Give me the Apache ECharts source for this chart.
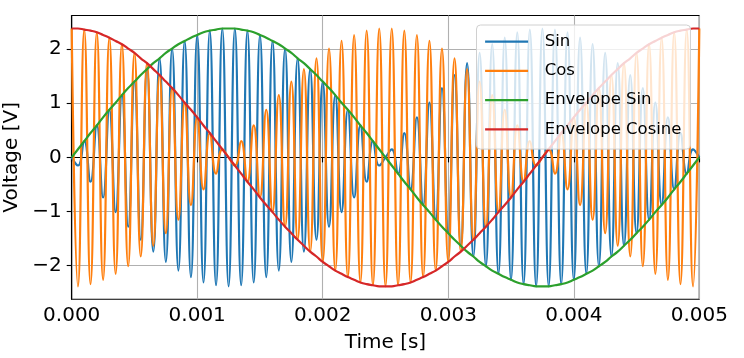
<!DOCTYPE html>
<html>
<head>
<meta charset="utf-8">
<script src="https://cdn.jsdelivr.net/npm/echarts@6/dist/echarts.min.js"></script>
<style>
html,body{margin:0;padding:0;background:#fff;}
#chart{width:744px;height:358px;}
</style>
</head>
<body>
<div id="chart"></div>
<script>
// Time samples (s) at the carrier's half-period extrema
var times = [0,0.00005,0.0001,0.00015,0.0002,0.00025,0.0003,0.00035,0.0004,0.00045,0.0005,
0.00055,0.0006,0.00065,0.0007,0.00075,0.0008,0.00085,0.0009,0.00095,0.001,
0.00105,0.0011,0.00115,0.0012,0.00125,0.0013,0.00135,0.0014,0.00145,0.0015,
0.00155,0.0016,0.00165,0.0017,0.00175,0.0018,0.00185,0.0019,0.00195,0.002,
0.00205,0.0021,0.00215,0.0022,0.00225,0.0023,0.00235,0.0024,0.00245,0.0025,
0.00255,0.0026,0.00265,0.0027,0.00275,0.0028,0.00285,0.0029,0.00295,0.003,
0.00305,0.0031,0.00315,0.0032,0.00325,0.0033,0.00335,0.0034,0.00345,0.0035,
0.00355,0.0036,0.00365,0.0037,0.00375,0.0038,0.00385,0.0039,0.00395,0.004,
0.00405,0.0041,0.00415,0.0042,0.00425,0.0043,0.00435,0.0044,0.00445,0.0045,
0.00455,0.0046,0.00465,0.0047,0.00475,0.0048,0.00485,0.0049,0.00495,0.005];

var sinWave = [0,-0.15,0.30,-0.45,0.59,-0.74,0.88,-1.01,1.15,-1.28,1.40,-1.52,1.63,-1.74,1.83,-1.93,2.01,-2.09,2.15,-2.21,2.26,-2.31,2.34,-2.36,2.38,-2.38,2.38,-2.36,2.34,-2.31,2.26,-2.21,2.15,-2.09,2.01,-1.93,1.83,-1.74,1.63,-1.52,1.40,-1.28,1.15,-1.01,0.88,-0.74,0.59,-0.45,0.30,-0.15,0,
0.15,-0.30,0.45,-0.59,0.74,-0.88,1.01,-1.15,1.28,-1.40,1.52,-1.63,1.74,-1.83,1.93,-2.01,2.09,-2.15,2.21,-2.26,2.31,-2.34,2.36,-2.38,2.38,-2.38,2.36,-2.34,2.31,-2.26,2.21,-2.15,2.09,-2.01,1.93,-1.83,1.74,-1.63,1.52,-1.40,1.28,-1.15,1.01,-0.88,0.74,-0.59,0.45,-0.30,0.15,0];

var cosWave = [2.38,-2.38,2.36,-2.34,2.31,-2.26,2.21,-2.15,2.09,-2.01,1.93,-1.83,1.74,-1.63,1.52,-1.40,1.28,-1.15,1.01,-0.88,0.74,-0.59,0.45,-0.30,0.15,0,
-0.15,0.30,-0.45,0.59,-0.74,0.88,-1.01,1.15,-1.28,1.40,-1.52,1.63,-1.74,1.83,-1.93,2.01,-2.09,2.15,-2.21,2.26,-2.31,2.34,-2.36,2.38,-2.38,
2.38,-2.36,2.34,-2.31,2.26,-2.21,2.15,-2.09,2.01,-1.93,1.83,-1.74,1.63,-1.52,1.40,-1.28,1.15,-1.01,0.88,-0.74,0.59,-0.45,0.30,-0.15,0,
0.15,-0.30,0.45,-0.59,0.74,-0.88,1.01,-1.15,1.28,-1.40,1.52,-1.63,1.74,-1.83,1.93,-2.01,2.09,-2.15,2.21,-2.26,2.31,-2.34,2.36,-2.38,2.38];

var envSin = [0,0.15,0.30,0.45,0.59,0.74,0.88,1.01,1.15,1.28,1.40,1.52,1.63,1.74,1.83,1.93,2.01,2.09,2.15,2.21,2.26,2.31,2.34,2.36,2.38,2.38,2.38,2.36,2.34,2.31,2.26,2.21,2.15,2.09,2.01,1.93,1.83,1.74,1.63,1.52,1.40,1.28,1.15,1.01,0.88,0.74,0.59,0.45,0.30,0.15,0,
-0.15,-0.30,-0.45,-0.59,-0.74,-0.88,-1.01,-1.15,-1.28,-1.40,-1.52,-1.63,-1.74,-1.83,-1.93,-2.01,-2.09,-2.15,-2.21,-2.26,-2.31,-2.34,-2.36,-2.38,-2.38,-2.38,-2.36,-2.34,-2.31,-2.26,-2.21,-2.15,-2.09,-2.01,-1.93,-1.83,-1.74,-1.63,-1.52,-1.40,-1.28,-1.15,-1.01,-0.88,-0.74,-0.59,-0.45,-0.30,-0.15,0];

var envCos = [2.38,2.38,2.36,2.34,2.31,2.26,2.21,2.15,2.09,2.01,1.93,1.83,1.74,1.63,1.52,1.40,1.28,1.15,1.01,0.88,0.74,0.59,0.45,0.30,0.15,0,
-0.15,-0.30,-0.45,-0.59,-0.74,-0.88,-1.01,-1.15,-1.28,-1.40,-1.52,-1.63,-1.74,-1.83,-1.93,-2.01,-2.09,-2.15,-2.21,-2.26,-2.31,-2.34,-2.36,-2.38,-2.38,
-2.38,-2.36,-2.34,-2.31,-2.26,-2.21,-2.15,-2.09,-2.01,-1.93,-1.83,-1.74,-1.63,-1.52,-1.40,-1.28,-1.15,-1.01,-0.88,-0.74,-0.59,-0.45,-0.30,-0.15,0,
0.15,0.30,0.45,0.59,0.74,0.88,1.01,1.15,1.28,1.40,1.52,1.63,1.74,1.83,1.93,2.01,2.09,2.15,2.21,2.26,2.31,2.34,2.36,2.38,2.38];

var seriesNames = ['Sin','Cos','Envelope Sin','Envelope Cosine'];
var seriesColors = ['#1f77b4','#ff7f0e','#2ca02c','#d62728'];
var yTicks = [-2,-1,0,1,2];

function pairs(vals){ return times.map(function(t,i){ return [t, vals[i]]; }); }

var chart = echarts.init(document.getElementById('chart'), null, {renderer:'canvas'});
var FONT = 'DejaVu Sans';
var allData = [sinWave, cosWave, envSin, envCos];

chart.setOption({
  animation: false,
  backgroundColor: '#ffffff',
  textStyle: {fontFamily: FONT},
  grid: {left: 71.7, right: 44.7, top: 15.5, bottom: 58.7, containLabel: false, outerBoundsMode: 'none',
         show: true, borderColor: '#000', borderWidth: 1.1, backgroundColor: 'transparent'},
  legend: {
    orient: 'vertical', left: 476.5, top: 25,
    padding: [6.7, 9, 9.8, 7.5],
    itemWidth: 43, itemHeight: 20, itemGap: 9.2,
    backgroundColor: 'rgba(255,255,255,0.8)', borderColor: '#d0d0d0', borderWidth: 1, borderRadius: 4,
    itemStyle: {opacity: 0, borderWidth: 0},
    lineStyle: {width: 2.2, opacity: 1},
    textStyle: {fontFamily: FONT, fontSize: 16.5, color: '#000', lineHeight: 20, padding: [0,0,0,11.6]},
    data: seriesNames
  },
  xAxis: {
    type: 'value', min: 0, max: 0.005, interval: 0.001,
    name: 'Time [s]', nameLocation: 'middle', nameGap: 33.5,
    nameTextStyle: {fontFamily: FONT, fontSize: 20, color: '#000'},
    axisLine: {show: true, lineStyle: {color: '#000', width: 1.1}},
    axisTick: {show: true, length: 5, lineStyle: {color: '#000', width: 1.1}},
    axisLabel: {fontFamily: FONT, fontSize: 20, color: '#000', margin: 6,
      formatter: function(v){ return v.toFixed(3); }},
    splitLine: {show: true, lineStyle: {color: '#b0b0b0', width: 1.1}}
  },
  yAxis: {
    type: 'value', min: -2.62, max: 2.62,
    name: 'Voltage [V]', nameLocation: 'middle', nameGap: 46,
    nameTextStyle: {fontFamily: FONT, fontSize: 20, color: '#000'},
    axisLine: {show: true, lineStyle: {color: '#000', width: 1.1}},
    axisTick: {show: true, length: 5, customValues: yTicks, lineStyle: {color: '#000', width: 1.1}},
    axisLabel: {fontFamily: FONT, fontSize: 20, color: '#000', margin: 10, customValues: yTicks,
      formatter: function(v){ return v < 0 ? '\u2212' + Math.abs(v) : String(v); }},
    splitLine: {show: true, lineStyle: {color: '#b0b0b0', width: 1.1}}
  },
  series: seriesNames.map(function(n, i){
    return {
      name: n, type: 'line', data: pairs(allData[i]),
      smooth: 0.5, symbol: 'none', showSymbol: false,
      color: seriesColors[i],
      lineStyle: {color: seriesColors[i], width: 2.2},
      emphasis: {disabled: true}
    };
  })
});
</script>
</body>
</html>
